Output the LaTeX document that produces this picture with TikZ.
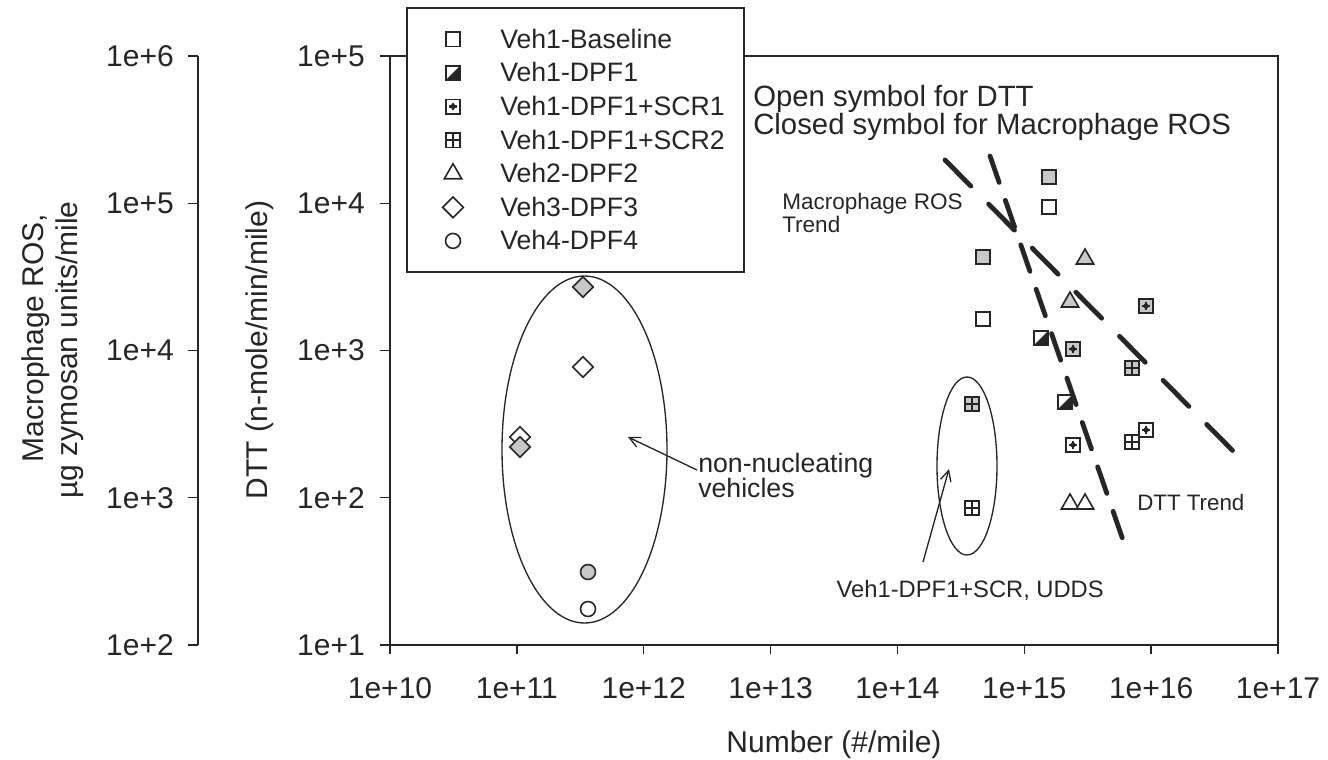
\documentclass[tikz,border=0pt]{standalone}
\usepackage{fontspec}
\setmainfont{Liberation Sans}
\usetikzlibrary{shapes.geometric,arrows.meta}
\definecolor{ink}{HTML}{262626}
\definecolor{mgrey}{HTML}{C8C8C8}
\begin{document}
\begin{tikzpicture}[x=0.75pt,y=-0.75pt,
  ax/.style={draw=ink, line width=1.1pt},
  tk/.style={draw=ink, line width=1.1pt},
  ticklab/.style={font=\fontsize{22.5}{26}\selectfont, text=ink, inner sep=0pt},
  axlab/.style={font=\fontsize{22.5}{25.5}\selectfont, text=ink, inner sep=0pt},
  leglab/.style={font=\fontsize{20}{22}\selectfont, text=ink, inner sep=0pt, anchor=base west},
  note/.style={text=ink, inner sep=0pt, anchor=base west},
  mk/.style={draw=ink, line width=1.2pt, fill=white, inner sep=0pt, outer sep=0pt},
  gr/.style={fill=mgrey},
  sqmk/.style={mk, rectangle, minimum size=10.8pt},
  halfmk/.style={sqmk, path picture={\fill[ink] (path picture bounding box.south west) -- (path picture bounding box.south east) -- (path picture bounding box.north east) -- cycle;}},
  scrone/.style={sqmk, path picture={
      \fill[ink] (path picture bounding box.center) circle[radius=2pt];
      \draw[ink, line width=1.6pt] ([xshift=-2.8pt]path picture bounding box.center) -- ([xshift=2.8pt]path picture bounding box.center);
      \draw[ink, line width=1.6pt] ([yshift=-2.8pt]path picture bounding box.center) -- ([yshift=2.8pt]path picture bounding box.center);}},
  scrtwo/.style={sqmk, path picture={
      \draw[ink, line width=1pt] (path picture bounding box.north) -- (path picture bounding box.south);
      \draw[ink, line width=1pt] (path picture bounding box.west) -- (path picture bounding box.east);}},
  trimk/.style={mk, regular polygon, regular polygon sides=3, minimum size=15pt},
  dmk/.style={mk, diamond, aspect=1, minimum size=15.5pt},
  cmk/.style={mk, circle, minimum size=11.2pt},
  trend/.style={draw=ink, line width=3.6pt, line cap=round},
  ring/.style={draw=ink, line width=1pt},
  ptr/.style={draw=ink, line width=1pt, -{Straight Barb[length=8pt, width=8pt, line width=1pt]}}
]
\useasboundingbox[fill=white] (0,0) rectangle (1328,760);

% ---------------- left (Macrophage ROS) axis
\draw[ax] (198,56) -- (198,645);
\foreach \yy/\lab [count=\i] in {56/1e+6, 203.25/1e+5, 350.5/1e+4, 497.75/1e+3, 645/1e+2}{
  \draw[tk] (188,\yy) -- (198,\yy);
  \node[ticklab, anchor=east] (rl\i) at (174,\yy) {\lab};
}
\node[axlab, rotate=90, anchor=base] (roslabA) at (43,338) {Macrophage ROS,};
\node[axlab, rotate=90, anchor=base] (roslabB) at (77,350) {µg zymosan units/mile};

% ---------------- main frame and DTT axis
\draw[ax] (390,56) rectangle (1278,645);
\foreach \yy/\lab [count=\i] in {56/1e+5, 203.25/1e+4, 350.5/1e+3, 497.75/1e+2, 645/1e+1}{
  \draw[tk] (380,\yy) -- (390,\yy);
  \node[ticklab, anchor=east] (dl\i) at (365,\yy) {\lab};
}
\node[axlab, rotate=90, anchor=base] (dttlab) at (267,350) {DTT (n-mole/min/mile)};

% ---------------- x axis
\foreach \e [count=\i] in {10,...,17}{
  \pgfmathsetmacro{\xx}{390+(\e-10)*126.857}
  \draw[tk] (\xx,645) -- (\xx,654);
  \node[ticklab] (xl\i) at (\xx,688) {1e+\e};
}
\node[axlab, anchor=base] (xlab) at (834,752) {Number (\#/mile)};

% ---------------- ellipses and pointers
\draw[ring] (584.5,449.5) ellipse [x radius=82.5, y radius=173.5];
\draw[ring] (967,466) ellipse [x radius=30, y radius=89];

\coordinate (nntail) at (697,470);
\coordinate (nntip) at (628,437);
\draw[ptr] (nntail) -- (nntip);
\node[note, font=\fontsize{20}{22}\selectfont] (nnlabA) at (698,472) {non-nucleating};
\node[note, font=\fontsize{20}{22}\selectfont] (nnlabB) at (698,497) {vehicles};

\coordinate (udtail) at (923,562);
\coordinate (udtip) at (949,469);
\draw[ptr] (udtail) -- (udtip);
\node[note, anchor=base east, font=\fontsize{17.8}{20}\selectfont] (udlab) at (1104,597) {Veh1-DPF1+SCR, UDDS};

% ---------------- trend lines
\coordinate (rosA) at (945,160);
\coordinate (rosB) at (1238,456);
\coordinate (dttA) at (990,156);
\coordinate (dttB) at (1123,540);
\draw[trend, dash pattern=on 27.5pt off 19pt] (rosA) -- (rosB);
\draw[trend, dash pattern=on 21pt off 14.25pt] (dttA) -- (dttB);

\node[note, font=\fontsize{22}{24}\selectfont] (symnoteA) at (753,106.5) {Open symbol for DTT};
\node[note, font=\fontsize{22}{24}\selectfont] (symnoteB) at (753,134.7) {Closed symbol for Macrophage ROS};
\node[note, font=\fontsize{16.9}{19}\selectfont] (rostrendA) at (782,209) {Macrophage ROS};
\node[note, font=\fontsize{16.9}{19}\selectfont] (rostrendB) at (782,232.5) {Trend};
\node[note, font=\fontsize{16.75}{19}\selectfont] (dtttrend) at (1137,510) {DTT Trend};

% ---------------- data: non-nucleating vehicles
\node[dmk, gr] (d1) at (583,287) {};
\node[dmk] (d2) at (583,367) {};
\node[dmk] (d3) at (520,437) {};
\node[dmk, gr] (d4) at (520,447) {};
\node[cmk, gr] (c1) at (588,572) {};
\node[cmk] (c2) at (588,609) {};

% ---------------- data: UDDS
\node[scrtwo, gr] (u1) at (972,404) {};
\node[scrtwo] (u2) at (972,508) {};

% ---------------- data: right cluster
\node[sqmk, gr] (b1) at (1049,177) {};
\node[sqmk] (b2) at (1049,207) {};
\node[sqmk, gr] (b3) at (983,257) {};
\node[sqmk] (b4) at (983,319) {};
\node[trimk, gr] (t1) at (1085,259) {};
\node[trimk, gr] (t2) at (1070,302) {};
\node[trimk] (t3) at (1070,504) {};
\node[trimk] (t4) at (1085,504) {};
\node[halfmk] (h1) at (1041,338) {};
\node[halfmk] (h2) at (1065,402) {};
\node[scrone, gr] (s1) at (1146,306) {};
\node[scrone, gr] (s2) at (1073,349) {};
\node[scrone] (s3) at (1146,430) {};
\node[scrone] (s4) at (1073,445) {};
\node[scrtwo, gr] (g1) at (1132,368) {};
\node[scrtwo] (g2) at (1132,442) {};

% ---------------- legend
\draw[ax, fill=white] (407,8) rectangle (744,272);
\foreach \st/\lab [count=\i] in {sqmk/Veh1-Baseline, halfmk/Veh1-DPF1, scrone/Veh1-DPF1+SCR1, scrtwo/Veh1-DPF1+SCR2, trimk/Veh2-DPF2, dmk/Veh3-DPF3, cmk/Veh4-DPF4}{
  \pgfmathsetmacro{\ry}{39.3+(\i-1)*33.6}
  \node[\st] (lm\i) at (453,\ry) {};
  \node[leglab] (lt\i) at (500,\ry+9) {\lab};
}
\end{tikzpicture}
\end{document}
